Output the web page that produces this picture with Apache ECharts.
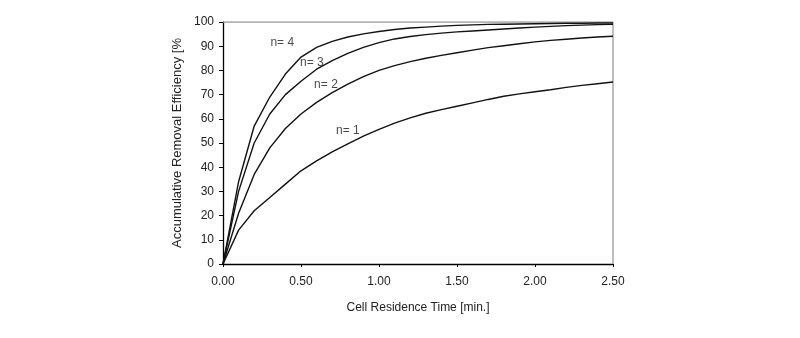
<!DOCTYPE html>
<html>
<head>
<meta charset="utf-8">
<script src="https://cdn.jsdelivr.net/npm/echarts@6/dist/echarts.min.js"></script>
<style>
html,body{margin:0;padding:0;background:#fff;}
#chart{width:800px;height:338px;}
</style>
</head>
<body>
<div id="chart"></div>
<script>
var times = [0,0.1,0.2,0.3,0.4,0.5,0.6,0.7,0.8,0.9,1.0,1.1,1.2,1.3,1.4,1.5,1.6,1.7,1.8,1.9,2.0,2.1,2.2,2.3,2.4,2.5];
var n1 = [0,14,22,27.5,33,38.5,42.6,46.3,49.6,52.8,55.6,58.2,60.4,62.3,63.8,65.2,66.6,68,69.3,70.3,71.2,72,73,73.8,74.5,75.2];
var n2 = [0,21,37,48,56,62,66.8,70.8,74.3,77.4,80,82,83.6,85,86.2,87.3,88.4,89.4,90.2,91,91.8,92.4,92.9,93.4,93.8,94.1];
var n3 = [0,30,50,62,70,75.5,80.5,84,87,89.5,91.5,93,94,94.8,95.4,95.9,96.3,96.7,97.1,97.5,97.9,98.2,98.5,98.7,98.9,99];
var n4 = [0,34,57,69,78.5,85.5,89.5,92,93.8,95.1,96.1,96.9,97.5,97.9,98.3,98.6,98.8,99,99.1,99.2,99.3,99.4,99.5,99.5,99.6,99.6];
var seriesNames = ['n= 1','n= 2','n= 3','n= 4'];
var labelX = [0.80, 0.66, 0.57, 0.38];
var labelY = [55, 74, 83.2, 91.4];
var xTicks = [0,0.5,1.0,1.5,2.0,2.5];
var yMin = 0, yMax = 100, yStep = 10;

var font = 'Liberation Sans, Arial, sans-serif';
function pairs(arr){ return times.map(function(t,i){ return [t, arr[i]]; }); }
var all = [n1,n2,n3,n4];
var series = all.map(function(arr, k){
  return {
    name: seriesNames[k],
    type: 'line',
    data: pairs(arr),
    symbol: 'none',
    smooth: false,
    lineStyle: {color: '#111', width: 1.4},
    z: 3
  };
});
// curve labels
series.push({
  type: 'scatter',
  symbolSize: 0,
  data: seriesNames.map(function(nm, k){ return {value: [labelX[k], labelY[k]], name: nm}; }),
  label: {show: true, position: 'inside', formatter: '{b}', color: '#1a1a1a', fontFamily: font, fontSize: 12},
  silent: true, z: 5
});
// top & right frame
series.push({
  type: 'line', data: [[0,100],[2.5,100],[2.5,0]], symbol:'none',
  lineStyle:{color:'#9a9a9a', width:1.3}, silent:true, z:2
});

var chart = echarts.init(document.getElementById('chart'));
chart.setOption({
  animation: false,
  backgroundColor: '#fff',
  grid: {left: 223, right: 187, top: 22, bottom: 74},
  xAxis: {
    type: 'value', min: 0, max: 2.5, interval: 0.5,
    name: 'Cell Residence Time [min.]', nameLocation: 'middle', nameGap: 38,
    nameTextStyle: {fontFamily: font, fontSize: 12, color: '#222'},
    axisLine: {show: true, lineStyle: {color: '#000', width: 1.3}},
    axisTick: {show: true, length: 3, lineStyle: {color: '#000'}},
    axisLabel: {fontFamily: font, fontSize: 12, color: '#222', margin: 12,
      formatter: function(v){ return v.toFixed(2); }},
    splitLine: {show: false}
  },
  yAxis: {
    type: 'value', min: yMin, max: yMax, interval: yStep,
    name: 'Accumulative Removal Efficiency [%', nameLocation: 'middle', nameGap: 39,
    nameTextStyle: {fontFamily: font, fontSize: 13, color: '#222'},
    axisLine: {show: true, lineStyle: {color: '#000', width: 1.3}},
    axisTick: {show: true, length: 4, lineStyle: {color: '#000'}},
    axisLabel: {fontFamily: font, fontSize: 12, color: '#222', margin: 9},
    splitLine: {show: false}
  },
  series: series
});
</script>
</body>
</html>
